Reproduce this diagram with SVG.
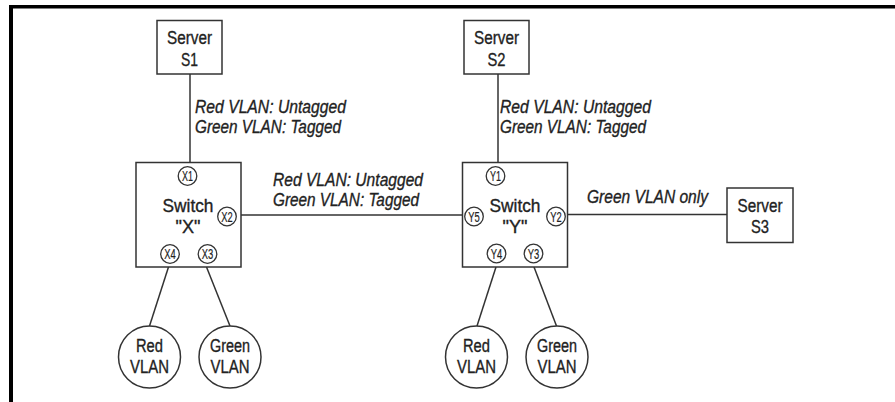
<svg xmlns="http://www.w3.org/2000/svg" width="895" height="402" viewBox="0 0 895 402">
<style>
text{font-family:"Liberation Sans",Arial,sans-serif;fill:#222;stroke:#222;stroke-width:0.35}
.t{font-size:18.8px;text-anchor:middle}
.lb{font-size:18.8px;font-style:italic}
.p{font-size:15px;text-anchor:middle;stroke-width:0.2}
.box{fill:#fff;stroke:#333;stroke-width:1.5}
.pc{fill:#fff;stroke:#333;stroke-width:1.3}
.ln{stroke:#333;stroke-width:1.5;fill:none}
</style>
<rect x="0" y="0" width="895" height="402" fill="#fff"/>
<g id="frame">
<rect x="9" y="5" width="886" height="3.5" fill="#000"/>
<rect x="9" y="5" width="4" height="397" fill="#000"/>
</g>
<g id="connectors">
<line class="ln" x1="190" y1="74" x2="190" y2="162"/>
<line class="ln" x1="498" y1="74" x2="498" y2="162"/>
<line class="ln" x1="241" y1="215" x2="462" y2="215"/>
<line class="ln" x1="567" y1="214.5" x2="727" y2="214.5"/>
<line class="ln" x1="168.5" y1="267" x2="149.5" y2="326"/>
<line class="ln" x1="206.5" y1="267" x2="230" y2="326"/>
<line class="ln" x1="496" y1="267" x2="477" y2="326"/>
<line class="ln" x1="534" y1="267" x2="556.5" y2="326"/>
</g>
<g id="labels">
<text class="lb" x="195" y="112.5" textLength="151" lengthAdjust="spacingAndGlyphs">Red VLAN: Untagged</text>
<text class="lb" x="195" y="132.5" textLength="146" lengthAdjust="spacingAndGlyphs">Green VLAN: Tagged</text>
<text class="lb" x="500" y="112.5" textLength="151" lengthAdjust="spacingAndGlyphs">Red VLAN: Untagged</text>
<text class="lb" x="500" y="132.5" textLength="146" lengthAdjust="spacingAndGlyphs">Green VLAN: Tagged</text>
<text class="lb" x="273" y="186" textLength="150" lengthAdjust="spacingAndGlyphs">Red VLAN: Untagged</text>
<text class="lb" x="273" y="206" textLength="146" lengthAdjust="spacingAndGlyphs">Green VLAN: Tagged</text>
<text class="lb" x="587" y="203" textLength="121" lengthAdjust="spacingAndGlyphs">Green VLAN only</text>
</g>
<g id="server-s1">
<rect class="box" x="157" y="20.5" width="65" height="53.5"/>
<text class="t" x="189.5" y="43.5" textLength="45" lengthAdjust="spacingAndGlyphs">Server</text>
<text class="t" x="189.5" y="66" textLength="17" lengthAdjust="spacingAndGlyphs">S1</text>
</g>
<g id="server-s2">
<rect class="box" x="464" y="20.5" width="65" height="53.5"/>
<text class="t" x="496.5" y="43.5" textLength="45" lengthAdjust="spacingAndGlyphs">Server</text>
<text class="t" x="496.5" y="65.5" textLength="18" lengthAdjust="spacingAndGlyphs">S2</text>
</g>
<g id="server-s3">
<rect class="box" x="727" y="188" width="66" height="54.5"/>
<text class="t" x="760" y="211.5" textLength="45" lengthAdjust="spacingAndGlyphs">Server</text>
<text class="t" x="760" y="232.5" textLength="18" lengthAdjust="spacingAndGlyphs">S3</text>
</g>
<g id="switch-x">
<rect class="box" x="136" y="162.5" width="105" height="104.5"/>
<text class="t" x="188" y="212" textLength="51" lengthAdjust="spacingAndGlyphs">Switch</text>
<text class="t" x="188" y="233" textLength="25" lengthAdjust="spacingAndGlyphs">"X"</text>
<circle class="pc" cx="187.5" cy="176" r="9.3"/><text class="p" x="187.5" y="181.3" textLength="11" lengthAdjust="spacingAndGlyphs">X1</text>
<circle class="pc" cx="227" cy="216.5" r="9.3"/><text class="p" x="227" y="221.8" textLength="11.5" lengthAdjust="spacingAndGlyphs">X2</text>
<circle class="pc" cx="207.5" cy="254" r="9.3"/><text class="p" x="207.5" y="259.3" textLength="11.5" lengthAdjust="spacingAndGlyphs">X3</text>
<circle class="pc" cx="170" cy="254" r="9.3"/><text class="p" x="170" y="259.3" textLength="11.5" lengthAdjust="spacingAndGlyphs">X4</text>
</g>
<g id="switch-y">
<rect class="box" x="462.5" y="162.5" width="105" height="104.5"/>
<text class="t" x="515" y="212" textLength="51" lengthAdjust="spacingAndGlyphs">Switch</text>
<text class="t" x="515" y="233" textLength="25" lengthAdjust="spacingAndGlyphs">"Y"</text>
<circle class="pc" cx="495.5" cy="176" r="9.3"/><text class="p" x="495.5" y="181.3" textLength="11" lengthAdjust="spacingAndGlyphs">Y1</text>
<circle class="pc" cx="556" cy="216.5" r="9.3"/><text class="p" x="556" y="221.8" textLength="11.5" lengthAdjust="spacingAndGlyphs">Y2</text>
<circle class="pc" cx="533.5" cy="253.5" r="9.3"/><text class="p" x="533.5" y="258.8" textLength="11.5" lengthAdjust="spacingAndGlyphs">Y3</text>
<circle class="pc" cx="496.5" cy="253.5" r="9.3"/><text class="p" x="496.5" y="258.8" textLength="11.5" lengthAdjust="spacingAndGlyphs">Y4</text>
<circle class="pc" cx="474" cy="216.5" r="9.3"/><text class="p" x="474" y="221.8" textLength="11.5" lengthAdjust="spacingAndGlyphs">Y5</text>
</g>
<g id="red-vlan-x">
<circle class="box" cx="149.5" cy="357" r="31"/>
<text class="t" x="149.5" y="351.5" textLength="27" lengthAdjust="spacingAndGlyphs">Red</text>
<text class="t" x="149.5" y="372.5" textLength="39" lengthAdjust="spacingAndGlyphs">VLAN</text>
</g>
<g id="green-vlan-x">
<circle class="box" cx="230" cy="357" r="31"/>
<text class="t" x="230" y="351.5" textLength="40" lengthAdjust="spacingAndGlyphs">Green</text>
<text class="t" x="230" y="372.5" textLength="39" lengthAdjust="spacingAndGlyphs">VLAN</text>
</g>
<g id="red-vlan-y">
<circle class="box" cx="476.5" cy="357" r="31"/>
<text class="t" x="476.5" y="351.5" textLength="27" lengthAdjust="spacingAndGlyphs">Red</text>
<text class="t" x="476.5" y="372.5" textLength="39" lengthAdjust="spacingAndGlyphs">VLAN</text>
</g>
<g id="green-vlan-y">
<circle class="box" cx="557" cy="357" r="31"/>
<text class="t" x="557" y="351.5" textLength="40" lengthAdjust="spacingAndGlyphs">Green</text>
<text class="t" x="557" y="372.5" textLength="39" lengthAdjust="spacingAndGlyphs">VLAN</text>
</g>
</svg>
